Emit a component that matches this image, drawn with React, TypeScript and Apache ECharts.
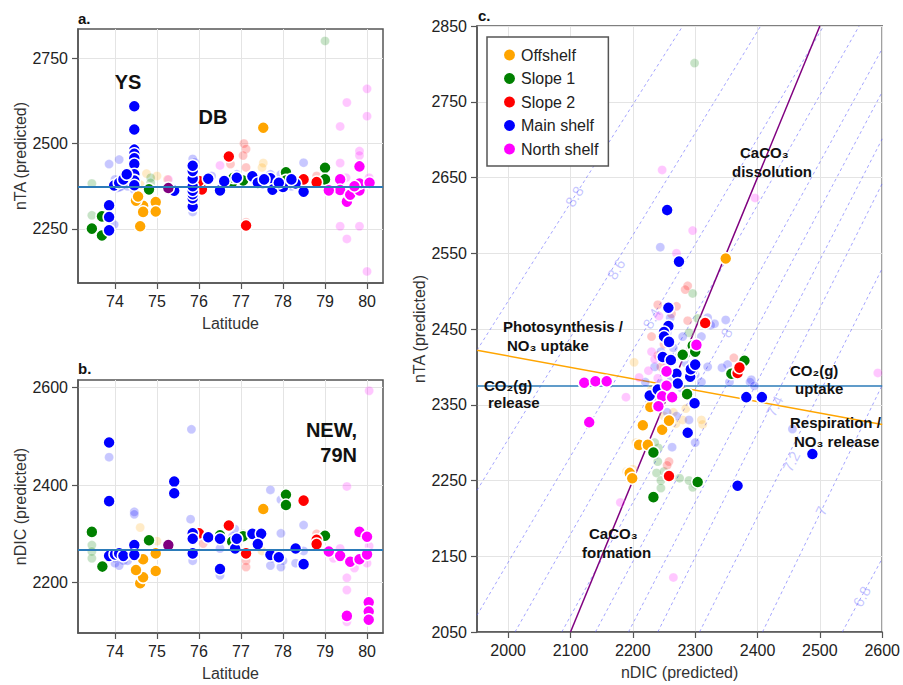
import React, { useEffect, useRef } from "react";
import * as echarts from "echarts";

const FONT = "'Liberation Sans', Arial, Helvetica, sans-serif";

// ---------- groups ----------
const groups = ["Offshelf", "Slope 1", "Slope 2", "Main shelf", "North shelf"];
const groupColors = ["#FFA500", "#008000", "#FF0000", "#0000FF", "#FF00FF"];
const otherColor = "#800080";

// ---------- panel a : latitude vs nTA ----------
const taOffshelf = [[74.6,2258],[74.67,2318],[74.67,2300],[74.97,2329],[74.97,2301],[74.5,2333],[77.53,2546],[74.55,2345]];
const taSlope1 = [[73.45,2251],[73.69,2231],[73.69,2287],[74.81,2366],[75.86,2418],[75.86,2387],[76.79,2386],[76.82,2400],[78.07,2416],[78.07,2392],[79.0,2429],[79.0,2395],[77.05,2392]];
const taSlope2 = [[76.71,2462],[77.12,2260],[76.07,2366],[78.49,2395],[78.8,2387],[76.0,2390]];
const taMain = [[74.46,2609],[74.46,2541],[74.46,2482],[74.46,2470],[74.46,2457],[74.46,2440],[74.46,2410],[74.46,2392],[74.46,2378],[73.98,2377],[74.1,2385],[74.2,2395],[74.28,2410],[73.86,2319],[73.86,2285],[73.86,2246],[75.41,2362],[75.85,2316],[75.85,2340],[75.85,2352],[75.85,2362],[75.85,2375],[75.85,2398],[75.85,2420],[75.85,2435],[76.22,2397],[76.5,2363],[76.6,2390],[76.9,2400],[77.27,2404],[77.4,2385],[77.7,2398],[77.75,2365],[78.0,2373],[78.3,2383],[78.2,2395],[78.49,2359],[77.55,2395],[77.9,2385]];
const taNorth = [[79.36,2395],[79.36,2364],[79.09,2363],[79.52,2330],[79.6,2350],[79.82,2433],[79.82,2363],[79.82,2383],[80.06,2385],[79.7,2375]];
const taOther = [[75.27,2370]];
const taOffshelfF = [[74.75,2412],[74.5,2398],[75.0,2405],[77.53,2443],[77.5,2430],[74.6,2380],[75.25,2395]];
const taSlope1F = [[79.0,2800],[73.45,2383],[73.45,2290],[74.85,2400],[74.85,2385],[76.6,2395],[78.1,2400]];
const taSlope2F = [[77.07,2500],[77.12,2484],[77.12,2430],[77.12,2270],[76.75,2440],[78.8,2405],[77.05,2465]];
const taMainF = [[73.86,2440],[74.1,2453],[73.98,2263],[78.49,2444],[74.0,2395],[74.05,2370],[74.15,2375],[74.3,2385],[74.4,2395],[75.85,2455],[75.85,2300],[75.9,2445],[76.3,2405],[76.9,2410],[77.3,2395],[77.7,2410],[77.95,2410],[78.2,2375],[74.0,2380],[74.1,2372],[74.2,2385],[74.3,2375],[74.35,2400],[74.46,2365],[74.46,2420],[75.85,2330],[75.85,2310],[76.8,2395],[76.9,2390],[77.2,2400],[77.5,2380],[77.8,2370],[78.0,2385],[78.3,2380]];
const taNorthF = [[80.0,2660],[79.52,2620],[79.36,2550],[80.0,2580],[80.0,2126],[79.52,2221],[79.36,2258],[79.82,2258],[79.36,2443],[79.82,2478],[79.82,2465],[76.5,2436],[75.27,2395],[79.5,2400],[80.05,2400]];

// ---------- panel b : latitude vs nDIC ----------
const dicOffshelf = [[74.6,2199],[74.67,2211],[74.67,2248],[74.5,2226],[74.97,2224],[74.97,2260],[77.53,2351]];
const dicSlope1 = [[73.45,2304],[73.7,2233],[74.81,2287],[76.79,2284],[76.5,2297],[78.07,2380],[78.07,2359],[79.0,2296],[77.05,2295]];
const dicSlope2 = [[76.71,2317],[77.12,2260],[76.0,2301],[78.49,2368],[78.8,2288],[78.8,2279]];
const dicMain = [[73.86,2487],[73.86,2367],[73.86,2255],[74.0,2258],[74.1,2260],[74.2,2255],[74.46,2277],[74.46,2257],[75.41,2407],[75.41,2383],[75.85,2301],[75.85,2260],[75.85,2290],[76.22,2293],[76.5,2290],[76.5,2228],[76.86,2270],[76.9,2290],[77.27,2300],[77.48,2300],[77.4,2279],[77.7,2257],[77.9,2252],[78.3,2270],[78.49,2238]];
const dicNorth = [[79.09,2264],[79.36,2255],[79.52,2132],[79.6,2243],[79.82,2304],[79.82,2248],[80.0,2294],[80.0,2258],[80.04,2160],[80.04,2141],[80.04,2124]];
const dicOther = [[75.27,2277]];
const dicOffshelfF = [[74.6,2313],[75.0,2285],[77.5,2265]];
const dicSlope1F = [[73.45,2277],[73.45,2264],[73.45,2250],[76.8,2275],[77.05,2300]];
const dicSlope2F = [[77.12,2245],[77.12,2232],[78.8,2300],[76.1,2280]];
const dicMainF = [[75.82,2514],[73.86,2457],[74.46,2345],[77.7,2390],[77.95,2370],[77.95,2301],[78.49,2318],[75.8,2330],[75.85,2245],[74.0,2240],[74.1,2235],[74.2,2245],[76.5,2215],[76.5,2270],[77.7,2235],[77.95,2232],[78.3,2240],[78.49,2265],[74.46,2340],[76.85,2310],[74.0,2250],[74.1,2255],[74.2,2250],[74.3,2245],[74.46,2265],[75.85,2300],[76.8,2295],[77.3,2295],[77.75,2250],[78.0,2245]];
const dicNorthF = [[80.05,2593],[79.52,2397],[79.52,2210],[79.52,2185],[79.52,2120],[79.36,2270],[79.7,2230],[80.0,2240],[80.05,2275],[79.2,2250]];

// ---------- panel c : nDIC vs nTA ----------
const cOffshelf = [[2349,2543],[2228,2347],[2216,2323],[2247,2317],[2258,2329],[2210,2297],[2224,2297],[2195,2260],[2199,2253]];
const cSlope1 = [[2296,2428],[2283,2416],[2358,2391],[2379,2408],[2287,2364],[2233,2287],[2304,2248],[2233,2228],[2280,2416],[2300,2420]];
const cSlope2 = [[2316,2458],[2368,2392],[2371,2399],[2258,2256]];
const cMain = [[2255,2607],[2274,2539],[2257,2478],[2257,2454],[2250,2446],[2250,2440],[2258,2433],[2248,2413],[2261,2409],[2299,2404],[2270,2391],[2295,2395],[2292,2387],[2272,2378],[2227,2362],[2299,2352],[2382,2360],[2407,2360],[2488,2285],[2368,2243],[2288,2313],[2293,2397],[2300,2403],[2240,2370]];
const cNorth = [[2302,2429],[2254,2394],[2254,2375],[2247,2361],[2263,2360],[2241,2348],[2122,2379],[2140,2381],[2158,2381],[2130,2327]];
const cOffshelfF = [[2202,2406],[2269,2325],[2312,2324],[2230,2370],[2240,2360],[2285,2345],[2200,2265],[2250,2335],[2265,2340],[2280,2330],[2310,2330],[2205,2300],[2190,2262]];
const cSlope1F = [[2299,2801],[2296,2497],[2304,2464],[2241,2293],[2275,2253],[2296,2241],[2238,2260],[2245,2250],[2240,2275],[2290,2445],[2235,2300],[2250,2262],[2262,2255],[2290,2250],[2300,2245],[2245,2240]];
const cSlope2F = [[2288,2507],[2284,2502],[2240,2482],[2288,2461],[2362,2412],[2258,2275],[2250,2430],[2230,2440],[2270,2480],[2262,2470],[2240,2415],[2245,2400],[2255,2270]];
const cMainF = [[2244,2558],[2331,2457],[2349,2462],[2352,2403],[2390,2383],[2343,2399],[2388,2380],[2407,2363],[2456,2318],[2263,2294],[2245,2420],[2235,2400],[2220,2380],[2280,2440],[2310,2440],[2320,2400],[2260,2465],[2255,2445],[2265,2425],[2275,2415],[2285,2405],[2250,2395],[2262,2385],[2278,2372],[2245,2378],[2300,2390],[2310,2380],[2236,2355],[2255,2340],[2270,2335],[2290,2330],[2300,2300],[2320,2465],[2325,2455],[2355,2380],[2395,2375]];
const cNorthF = [[2247,2660],[2296,2580],[2270,2550],[2242,2467],[2210,2386],[2189,2360],[2180,2221],[2265,2122],[2593,2392],[2396,2623],[2230,2420],[2235,2410],[2225,2395],[2240,2385],[2255,2405]];

// reference values / lines
const taMean = 2375;
const dicMean = 2268;
const caco3Line = [[2100, 2050], [2500, 2850]];
const photoLine = [[1950, 2422], [2600, 2324]];

// pH isolines
const isoLevels = [8.8, 8.6, 8.4, 8.2, 8.0, 7.8, 7.6, 7.4, 7.2, 7.0, 6.8];
const isoStart = [[1950,2422],[1950,2237],[1950,2072],[2011,2050],[2086,2050],[2140,2050],[2193,2050],[2240,2050],[2307,2050],[2408,2050],[2536,2050]];
const isoEnd = [[2280,2850],[2405,2850],[2506,2850],[2563,2850],[2600,2820],[2600,2763],[2600,2701],[2600,2642],[2600,2530],[2600,2376],[2600,2147]];
const isoLabelLevel = [8.8, 8.6, 8.4, 8.0, 7.4, 7.2, 7.0, 6.8];
const isoLabelPos = [[2106,2625],[2173,2529],[2230,2464],[2350,2445],[2427,2348],[2454,2275],[2502,2210],[2567,2097]];

// ticks
const latTicks = [74, 75, 76, 77, 78, 79, 80];
const taTicksA = [2250, 2500, 2750];
const dicTicksB = [2200, 2400, 2600];
const dicTicksC = [2000, 2100, 2200, 2300, 2400, 2500, 2600];
const taTicksC = [2050, 2150, 2250, 2350, 2450, 2550, 2650, 2750, 2850];

// ---------- layout ----------
const GA = { left: 78, top: 29, width: 305, height: 254 };
const GB = { left: 78, top: 380, width: 305, height: 253 };
const GC = { left: 477, top: 26, width: 406, height: 609 };
const C_X = [1950, 2600];
const C_Y = [2050, 2850];

function axis(gridIndex: number, min: number, max: number, ticks: number[], name: string, nameGap: number) {
  return {
    type: "value",
    gridIndex,
    min,
    max,
    name,
    nameLocation: "middle",
    nameGap,
    nameTextStyle: { fontSize: 16, color: "#333", fontFamily: FONT },
    axisLine: { show: true, onZero: false, lineStyle: { color: "#555", width: 1.5 } },
    axisTick: { show: true, length: 6, customValues: ticks, lineStyle: { color: "#555", width: 1.2 } },
    axisLabel: {
      fontSize: 16,
      color: "#222",
      margin: 10,
      fontFamily: FONT,
      customValues: ticks,
      formatter: (v: number) => String(v),
    },
    splitLine: { show: true, lineStyle: { color: "#e4e4e4", width: 1 } },
  };
}

function pts(name: string, data: number[][], color: string, faded: boolean, gi: number) {
  return {
    type: "scatter",
    name,
    xAxisIndex: gi,
    yAxisIndex: gi,
    data,
    symbol: "circle",
    symbolSize: faded ? 9 : 12,
    itemStyle: { color, opacity: faded ? 0.22 : 1, borderColor: "#fff", borderWidth: faded ? 1 : 1.5 },
    z: faded ? 3 : 4,
    silent: true,
  };
}

function panelSeries(gi: number, full: number[][][], faded: number[][][], other: number[][]) {
  const s: any[] = [];
  faded.forEach((d, i) => s.push(pts(groups[i] + " (faded)", d, groupColors[i], true, gi)));
  full.forEach((d, i) => s.push(pts(groups[i], d, groupColors[i], false, gi)));
  s.push(pts("other", other, otherColor, false, gi));
  return s;
}

function hline(gi: number, value: number, z: number, width: number) {
  return {
    type: "line",
    name: "mean" + gi,
    xAxisIndex: gi,
    yAxisIndex: gi,
    data: [],
    z,
    silent: true,
    markLine: {
      silent: true,
      symbol: "none",
      label: { show: false },
      lineStyle: { color: "#2b7bb9", width, type: "solid" },
      data: [{ yAxis: value }],
      z,
    },
  };
}

function lineSeries(name: string, data: number[][], color: string, width: number, z: number, dashed = false) {
  return {
    type: "line",
    name,
    xAxisIndex: 2,
    yAxisIndex: 2,
    data,
    symbol: "none",
    silent: true,
    lineStyle: { color, width, type: dashed ? [3, 3] : "solid" },
    z,
  };
}

function buildOption() {
  const pxPerDIC = GC.width / (C_X[1] - C_X[0]);
  const pxPerTA = GC.height / (C_Y[1] - C_Y[0]);
  const series: any[] = [];

  isoLevels.forEach((lv, i) => {
    series.push(lineSeries("pH " + lv, [isoStart[i], isoEnd[i]], "rgba(90,90,255,0.55)", 1, 1, true));
  });
  series.push({
    type: "scatter",
    name: "isoLabels",
    xAxisIndex: 2,
    yAxisIndex: 2,
    symbolSize: 0,
    silent: true,
    z: 1,
    data: isoLabelPos.map((p, k) => {
      const i = isoLevels.indexOf(isoLabelLevel[k]);
      const ang = (Math.atan2((isoEnd[i][1] - isoStart[i][1]) * pxPerTA, (isoEnd[i][0] - isoStart[i][0]) * pxPerDIC) * 180) / Math.PI;
      return {
        value: p,
        label: {
          show: true,
          position: "inside",
          formatter: String(isoLabelLevel[k]),
          rotate: ang,
          fontSize: 15,
          color: "rgba(110,110,255,0.5)",
          fontFamily: FONT,
        },
      };
    }),
  });
  series.push(lineSeries("CaCO3", caco3Line, "#800080", 1.5, 2));
  series.push(lineSeries("Photosynthesis", photoLine, "#FFA500", 1.5, 2));
  series.push(hline(2, taMean, 2, 1.5));

  series.push(...panelSeries(0, [taOffshelf, taSlope1, taSlope2, taMain, taNorth], [taOffshelfF, taSlope1F, taSlope2F, taMainF, taNorthF], taOther));
  series.push(...panelSeries(1, [dicOffshelf, dicSlope1, dicSlope2, dicMain, dicNorth], [dicOffshelfF, dicSlope1F, dicSlope2F, dicMainF, dicNorthF], dicOther));
  series.push(...panelSeries(2, [cOffshelf, cSlope1, cSlope2, cMain, cNorth], [cOffshelfF, cSlope1F, cSlope2F, cMainF, cNorthF], []));
  series.push(hline(0, taMean, 6, 2));
  series.push(hline(1, dicMean, 6, 2));

  const bold = (text: string, x: number, y: number, size: number, align = "left") => ({
    type: "text",
    x,
    y,
    z: 100,
    silent: true,
    style: { text, fontSize: size, fontWeight: "bold", fontFamily: FONT, fill: "#111", align, verticalAlign: "middle" },
  });

  const graphics = [
    bold("a.", 78, 18, 15),
    bold("b.", 78, 368, 15),
    bold("c.", 478, 15, 15),
    bold("YS", 128, 82, 20, "center"),
    bold("DB", 213, 117, 20, "center"),
    bold("NEW,", 357, 430, 20, "right"),
    bold("79N", 357, 455, 20, "right"),
    bold("CaCO₃", 740, 152, 15),
    bold("dissolution", 732, 171, 15),
    bold("Photosynthesis /", 503, 326, 15),
    bold("NO₃ uptake", 507, 345, 15),
    bold("CO₂(g)", 484, 385, 15),
    bold("release", 488, 402, 15),
    bold("CO₂(g)", 790, 370, 15),
    bold("uptake", 795, 388, 15),
    bold("Respiration /", 790, 422, 15),
    bold("NO₃ release", 794, 441, 15),
    bold("CaCO₃", 589, 533, 15),
    bold("formation", 582, 552, 15),
  ];

  const gridStyle = { show: true, borderColor: "#555", borderWidth: 1.5, backgroundColor: "transparent" };

  return {
    animation: false,
    backgroundColor: "#fff",
    textStyle: { fontFamily: FONT },
    grid: [
      { ...GA, ...gridStyle },
      { ...GB, ...gridStyle },
      { ...GC, ...gridStyle },
    ],
    xAxis: [
      axis(0, 73.12, 80.38, latTicks, "Latitude", 32),
      axis(1, 73.12, 80.38, latTicks, "Latitude", 32),
      axis(2, C_X[0], C_X[1], dicTicksC, "nDIC (predicted)", 32),
    ],
    yAxis: [
      axis(0, 2092, 2835, taTicksA, "nTA (predicted)", 50),
      axis(1, 2097, 2615, dicTicksB, "nDIC (predicted)", 50),
      axis(2, C_Y[0], C_Y[1], taTicksC, "nTA (predicted)", 50),
    ],
    legend: {
      show: true,
      data: groups,
      left: 487,
      top: 37,
      orient: "vertical",
      icon: "circle",
      itemWidth: 13,
      itemHeight: 13,
      itemGap: 7.5,
      padding: [10, 10, 9, 15],
      borderColor: "#555",
      borderWidth: 1.5,
      backgroundColor: "#fff",
      selectedMode: false,
      textStyle: { fontSize: 16, color: "#222", fontFamily: FONT },
      z: 50,
    },
    series,
    graphic: graphics,
  };
}

export default function App() {
  const ref = useRef<HTMLDivElement>(null);
  useEffect(() => {
    if (!ref.current) return;
    const chart = echarts.init(ref.current, null, { renderer: "svg" });
    chart.setOption(buildOption() as any);
    return () => chart.dispose();
  }, []);
  return (
    <div
      ref={ref}
      style={{ position: "fixed", left: 0, top: 0, width: 903, height: 685, background: "#fff" }}
    />
  );
}
